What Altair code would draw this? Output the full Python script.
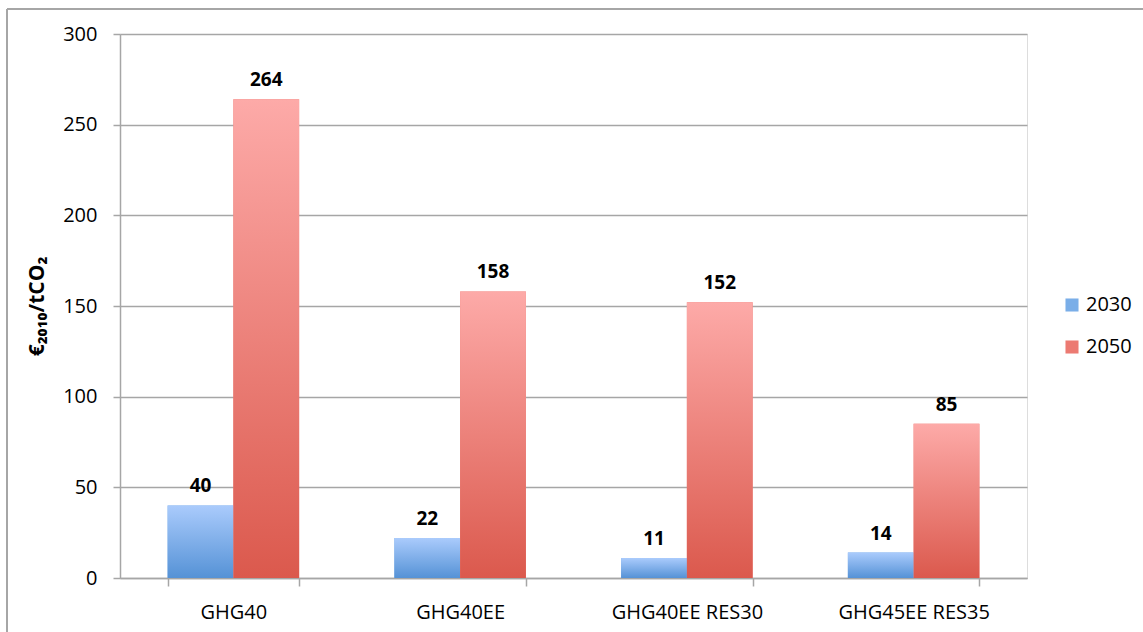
import altair as alt
import pandas as pd

# Scenario results: carbon price in EUR(2010) per tonne of CO2
scenarios = ["GHG40", "GHG40EE", "GHG40EE RES30", "GHG45EE RES35"]
years = ["2030", "2050"]
price_2030 = [40, 22, 11, 14]
price_2050 = [264, 158, 152, 85]
y_ticks = [0, 50, 100, 150, 200, 250, 300]

rows = []
for s, a, b in zip(scenarios, price_2030, price_2050):
    rows.append({"scenario": s, "year": "2030", "value": a})
    rows.append({"scenario": s, "year": "2050", "value": b})
df = pd.DataFrame(rows)

FONT = "Open Sans"
GRID = "#a6a6a6"

blue_grad = alt.Gradient(
    gradient="linear", x1=0, x2=0, y1=0, y2=1,
    stops=[alt.GradientStop(color="#aacbfc", offset=0),
           alt.GradientStop(color="#5592d6", offset=1)],
)
red_grad = alt.Gradient(
    gradient="linear", x1=0, x2=0, y1=0, y2=1,
    stops=[alt.GradientStop(color="#fdaaa8", offset=0),
           alt.GradientStop(color="#db594d", offset=1)],
)

x_enc = alt.X(
    "scenario:N",
    sort=scenarios,
    scale=alt.Scale(paddingInner=0.42, paddingOuter=0.21),
    axis=alt.Axis(
        title=None, labelAngle=0, labelFont=FONT, labelFontSize=20,
        labelColor="black", labelPadding=16, tickBand="extent",
        tickSize=8, tickColor=GRID, tickWidth=1.5,
        domainColor=GRID, domainWidth=1.5, grid=False,
    ),
)
xoff_enc = alt.XOffset("year:N", sort=years,
                       scale=alt.Scale(domain=years, paddingInner=0, paddingOuter=0))
y_enc = alt.Y(
    "value:Q",
    scale=alt.Scale(domain=[0, 300], nice=False),
    axis=alt.Axis(
        title="€₂₀₁₀/tCO₂", titleFont=FONT, titleFontSize=21, titleFontWeight="bold",
        titleColor="black", titlePadding=15,
        values=y_ticks, labelFont=FONT, labelFontSize=20, labelColor="black",
        labelPadding=16, tickSize=7, tickColor=GRID, tickWidth=1.5,
        domainColor=GRID, domainWidth=1.5, gridColor=GRID, gridWidth=1.3,
    ),
)

base = alt.Chart(df).encode(x=x_enc, xOffset=xoff_enc, y=y_enc)

# solid bars carry the legend; gradient bars are drawn over them
legend_bars = base.mark_bar().encode(
    color=alt.Color(
        "year:N",
        scale=alt.Scale(domain=years, range=["#7aaee8", "#ec7a72"]),
        legend=alt.Legend(
            title=None, orient="none", legendX=942, legendY=261,
            symbolType="square", symbolSize=170, symbolStrokeWidth=0,
            labelFont=FONT, labelFontSize=20, labelColor="black",
            rowPadding=22, labelOffset=4,
        ),
    )
)
bars_2030 = base.transform_filter(alt.datum.year == "2030").mark_bar(fill=blue_grad)
bars_2050 = base.transform_filter(alt.datum.year == "2050").mark_bar(fill=red_grad)

labels = base.mark_text(
    font=FONT, fontSize=19, fontWeight="bold", color="black",
    baseline="bottom", dy=-9,
).encode(text="value:Q")

# chart-area frame (left and top edges)
frame_left = alt.Chart(alt.Data(values=[{}])).mark_rule(
    color=GRID, strokeWidth=2
).encode(x=alt.value(-113), y=alt.value(-25), y2=alt.value(620))
frame_top = alt.Chart(alt.Data(values=[{}])).mark_rule(
    color=GRID, strokeWidth=2
).encode(x=alt.value(-113), x2=alt.value(1100), y=alt.value(-25))

chart = alt.layer(
    legend_bars, bars_2030, bars_2050, labels, frame_left, frame_top
).properties(
    width=907, height=544,
    autosize=alt.AutoSizeParams(type="none"),
    padding={"left": 120, "top": 34, "right": 116, "bottom": 54},
).configure_view(stroke=None).configure(background="white")

chart.save("out.html", embed_options={"renderer": "svg", "actions": False})
